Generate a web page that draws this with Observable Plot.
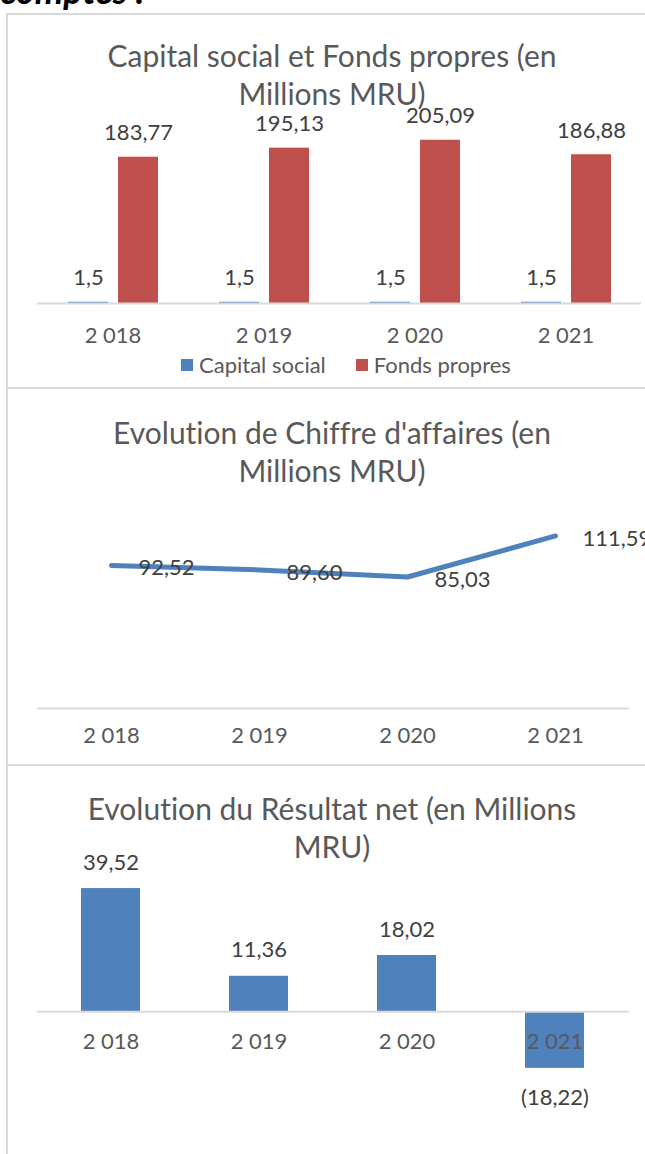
<!DOCTYPE html>
<html>
<head>
<meta charset="utf-8">
<script src="https://cdn.jsdelivr.net/npm/d3@7"></script>
<script src="https://cdn.jsdelivr.net/npm/@observablehq/plot@0.6"></script>
<style>
  html, body { margin: 0; padding: 0; background: #fff; }
  body { width: 645px; height: 1154px; overflow: hidden; position: relative; font-family: Lato, "Open Sans", sans-serif; font-variant-ligatures: none; }
  svg, svg text { font-variant-ligatures: none; }
  .abs { position: absolute; }
  .title { position: absolute; left: 0; width: 664px; text-align: center; color: #595959; font-size: 30px; line-height: 38px; }
  .sep { position: absolute; left: 6px; width: 700px; height: 2px; background: #d9d9d9; }
  .legend { position: absolute; top: 351px; left: 181px; font-size: 22px; color: #595959; display: flex; align-items: center; white-space: nowrap; }
  .sw { display: inline-block; width: 12px; height: 12px; margin-right: 6px; }
</style>
</head>
<body>
<script>
// ---- data ----
const years = ["2 018", "2 019", "2 020", "2 021"];
const seriesNames = ["Capital social", "Fonds propres"];
const capitalSocial = [1.5, 1.5, 1.5, 1.5];
const fondsPropres = [183.77, 195.13, 205.09, 186.88];
const chiffreAffaires = [92.52, 89.60, 85.03, 111.59];
const resultatNet = [39.52, 11.36, 18.02, -18.22];
const titles = [
  ["Capital social et Fonds propres (en", "Millions MRU)"],
  ["Evolution de Chiffre d'affaires (en", "Millions MRU)"],
  ["Evolution du Résultat net (en Millions", "MRU)"]
];
const colors = ["#4F81BD", "#C0504D"];

const frNum = (v, dec) => {
  const s = dec == null ? String(Math.abs(v)) : Math.abs(v).toFixed(dec);
  const t = s.replace(".", ",");
  return v < 0 ? "(" + t + ")" : t;
};

function addEl(html, cls, style) {
  const d = document.createElement("div");
  if (cls) d.className = cls;
  d.innerHTML = html;
  Object.assign(d.style, style || {});
  document.body.appendChild(d);
  return d;
}
function place(svg, top) {
  svg.style.position = "absolute";
  svg.style.left = "0px";
  svg.style.top = top + "px";
  svg.style.overflow = "visible";
  svg.style.background = "transparent";
  document.body.appendChild(svg);
}

// header text (cut off at top) and frame
addEl("comptes :", "abs", {left: "0px", top: "-28px", font: "italic bold 36px/36px Lato", color: "#000", whiteSpace: "nowrap"});
addEl("", "abs", {left: "6px", top: "13px", width: "700px", height: "1200px", borderLeft: "2px solid #d9d9d9", borderTop: "2px solid #d9d9d9", boxSizing: "border-box"});
addEl("", "sep", {top: "387px"});
addEl("", "sep", {top: "764px"});

// titles
addEl(titles[0].join("<br>"), "title", {top: "36px"});
addEl(titles[1].join("<br>"), "title", {top: "413px"});
addEl(titles[2].join("<br>"), "title", {top: "789px"});

const labelFont = 22;
const labelColor = "#404040";
const axisColor = "#595959";

// ---- Panel 1: grouped bars ----
const rows1 = [];
years.forEach((y, i) => {
  rows1.push({year: y, series: seriesNames[0], value: capitalSocial[i], label: frNum(capitalSocial[i])});
  rows1.push({year: y, series: seriesNames[1], value: fondsPropres[i], label: frNum(fondsPropres[i], 2)});
});
const p1 = Plot.plot({
  width: 645, height: 250,
  marginLeft: 37, marginRight: 4, marginTop: 4, marginBottom: 47,
  style: {fontFamily: "Lato", overflow: "visible"},
  fx: {domain: years, padding: 0, axis: null},
  x: {domain: seriesNames, paddingInner: 0.2, paddingOuter: 0.61, axis: null},
  y: {domain: [0, 250], axis: null},
  color: {domain: seriesNames, range: colors},
  marks: [
    Plot.barY(rows1, {fx: "year", x: "series", y: "value", fill: "series"}),
    Plot.ruleY([0], {stroke: "#d9d9d9", strokeWidth: 2}),
    Plot.text(rows1, {fx: "year", x: "series", y: "value", text: "label", dy: -24, lineAnchor: "middle", fontSize: labelFont, fill: labelColor}),
    Plot.text(years, {fx: d => d, text: d => d, frameAnchor: "bottom", dy: 32, lineAnchor: "middle", fontSize: labelFont, fill: axisColor})
  ]
});
place(p1, 100);

// legend
addEl(seriesNames.map((s, i) => `<span class="sw" style="background:${colors[i]}"></span><span style="margin-right:${i === 0 ? 30 : 0}px">${s}</span>`).join(""), "legend");

// ---- Panel 2: line ----
const rows2 = years.map((y, i) => ({year: y, value: chiffreAffaires[i], label: frNum(chiffreAffaires[i], 2)}));
const p2 = Plot.plot({
  width: 645, height: 260,
  marginLeft: 37, marginRight: 16, marginTop: 7, marginBottom: 52,
  style: {fontFamily: "Lato", overflow: "visible"},
  x: {type: "point", domain: years, padding: 0.5, axis: null},
  y: {domain: [0, 130], axis: null},
  marks: [
    Plot.ruleY([0], {stroke: "#d9d9d9", strokeWidth: 2}),
    Plot.line(rows2, {x: "year", y: "value", stroke: colors[0], strokeWidth: 5, strokeLinecap: "round", strokeLinejoin: "round"}),
    Plot.text(rows2, {x: "year", y: "value", text: "label", dx: 27, dy: 3, textAnchor: "start", lineAnchor: "middle", fontSize: labelFont, fill: labelColor}),
    Plot.text(years, {x: d => d, text: d => d, frameAnchor: "bottom", dy: 27, lineAnchor: "middle", fontSize: labelFont, fill: axisColor})
  ]
});
place(p2, 500);

// ---- Panel 3: bars pos/neg ----
const rows3 = years.map((y, i) => ({year: y, value: resultatNet[i], label: frNum(resultatNet[i], 2)}));
const p3 = Plot.plot({
  width: 645, height: 260,
  marginLeft: 37, marginRight: 16, marginTop: 11, marginBottom: 31,
  style: {fontFamily: "Lato", overflow: "visible"},
  x: {domain: years, paddingInner: 0.6, paddingOuter: 0.3, axis: null},
  y: {domain: [-25, 45], axis: null},
  marks: [
    Plot.barY(rows3, {x: "year", y: "value", fill: colors[0]}),
    Plot.ruleY([0], {stroke: "#d9d9d9", strokeWidth: 2}),
    Plot.text(rows3.filter(d => d.value >= 0), {x: "year", y: "value", text: "label", dy: -26, lineAnchor: "middle", fontSize: labelFont, fill: labelColor}),
    Plot.text(rows3.filter(d => d.value < 0), {x: "year", y: "value", text: "label", dy: 30, lineAnchor: "middle", fontSize: labelFont, fill: labelColor}),
    Plot.text(years, {x: d => d, y: () => 0, text: d => d, dy: 30, lineAnchor: "middle", fontSize: labelFont, fill: axisColor})
  ]
});
place(p3, 860);
</script>
</body>
</html>
